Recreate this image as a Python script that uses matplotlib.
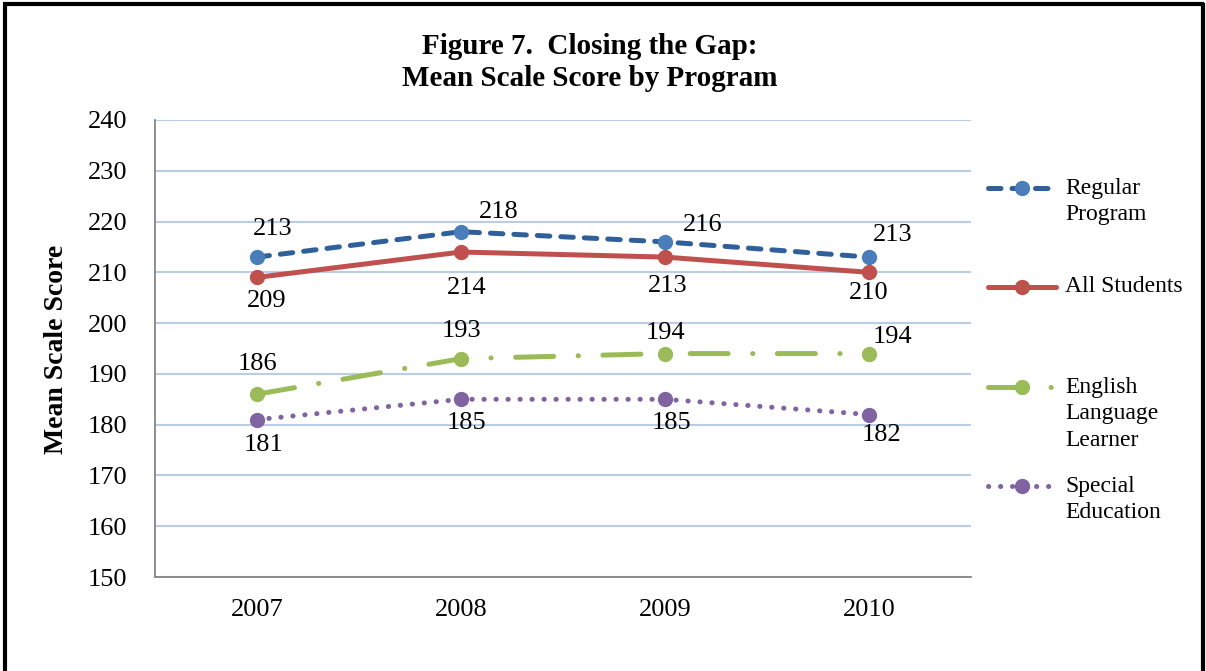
import matplotlib
matplotlib.use("Agg")
import matplotlib.pyplot as plt
from matplotlib.lines import Line2D

plt.rcParams['font.family'] = ['Liberation Serif', 'DejaVu Serif']

years = ["2007", "2008", "2009", "2010"]
series_names = ["Regular\nProgram", "All Students", "English\nLanguage\nLearner", "Special\nEducation"]
regular = [213, 218, 216, 213]
all_students = [209, 214, 213, 210]
ell = [186, 193, 194, 194]
sped = [181, 185, 185, 182]
y_ticks = [150, 160, 170, 180, 190, 200, 210, 220, 230, 240]

W, H = 1206, 671
fig = plt.figure(figsize=(W / 100, H / 100), dpi=100)
ax = fig.add_axes([155 / W, 1 - 577 / H, (971 - 155) / W, (577 - 120) / H])

x = list(range(len(years)))

styles = [
    dict(color='#30609A', mfc='#4A7EBB', mec='#4A7EBB', ls=(0, (2.5, 2.2))),
    dict(color='#C0504D', mfc='#C0504D', mec='#C0504D', ls='-'),
    dict(color='#9BBB59', mfc='#9BBB59', mec='#9BBB59', ls=(0, (7.6, 4.9, 0.05, 4.9))),
    dict(color='#8064A2', mfc='#8064A2', mec='#8064A2', ls=(0, (0.05, 2.35))),
]
data = [regular, all_students, ell, sped]

# label offsets in points (dx, dy)
offsets = [
    [(11, 20), (27, 14), (27, 12), (17, 16)],
    [(7, -17), (4, -26), (2, -21), (0, -15)],
    [(0, 22), (0, 20), (0, 15), (17, 12)],
    [(5, -18), (4, -17), (5, -17), (9, -15)],
]

for vals, st, offs in zip(data, styles, offsets):
    ax.plot(x, vals, lw=3.6, marker='o', markersize=10, solid_capstyle='round', zorder=3,
            color=st['color'], markerfacecolor=st['mfc'], markeredgecolor=st['mec'],
            linestyle=st['ls'], dash_capstyle='round')
    for xi, v, (dx, dy) in zip(x, vals, offs):
        ax.annotate(str(v), (xi, v), xytext=(dx, dy), textcoords='offset points',
                    ha='center', va='center', fontsize=19, zorder=4)

ax.set_xlim(-0.5, 3.5)
ax.set_ylim(150, 240)
ax.set_yticks(y_ticks)
ax.set_xticks(x)
ax.set_xticklabels(years)
ax.tick_params(axis='both', labelsize=19, length=0)
ax.tick_params(axis='y', pad=20)
ax.tick_params(axis='x', pad=16)
ax.grid(axis='y', color='#B9CDE5', lw=1.5, zorder=0)
ax.set_axisbelow(True)
for s in ['top', 'right']:
    ax.spines[s].set_visible(False)
for s in ['left', 'bottom']:
    ax.spines[s].set_color('#868686')
    ax.spines[s].set_linewidth(1.3)


def fx(px):
    return px / W


def fy(py):
    return 1 - py / H


fig.text(fx(57), fy(349), "Mean Scale Score", rotation=90, ha='center', va='center',
         fontsize=20, fontweight='bold')
fig.text(fx(590), fy(47), "Figure 7.  Closing the Gap:",
         ha='center', va='center', fontsize=21, fontweight='bold')
fig.text(fx(590), fy(78), "Mean Scale Score by Program",
         ha='center', va='center', fontsize=21, fontweight='bold')

# legend drawn manually
leg_y = [188, 287, 387, 486]
leg_text_y = [201.5, 287, 414, 499.5]
for st, name, ly, ty in zip(styles, series_names, leg_y, leg_text_y):
    fig.add_artist(Line2D([fx(988), fx(1056)], [fy(ly), fy(ly)], transform=fig.transFigure,
                          lw=3.6, color=st['color'], linestyle=st['ls'],
                          dash_capstyle='round', solid_capstyle='round'))
    fig.add_artist(Line2D([fx(1022)], [fy(ly)], transform=fig.transFigure, marker='o',
                          markersize=10, color=st['mfc'], linestyle='none'))
    fig.text(fx(1065), fy(ty), name, ha='left', va='center', fontsize=17, linespacing=1.35)

# frame border
for xs, ys in [([4.5, 4.5], [2.5, 671]), ([3, 1204], [4, 4]), ([1203, 1203], [2.5, 671])]:
    fig.add_artist(Line2D([fx(v) for v in xs], [fy(v) for v in ys], transform=fig.transFigure,
                          lw=3, color='black', solid_capstyle='butt'))

fig.savefig("out.png", dpi=100)
